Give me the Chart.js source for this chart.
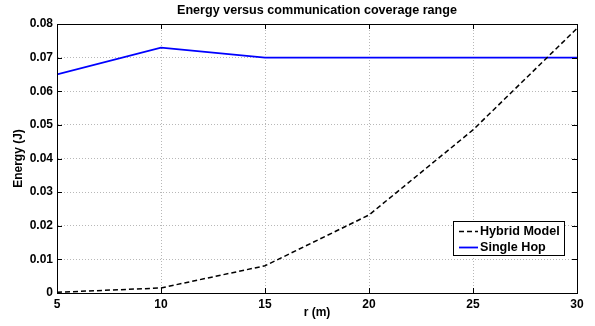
<!DOCTYPE html>
<html>
<head>
<meta charset="utf-8">
<script src="https://cdn.jsdelivr.net/npm/chart.js@4"></script>
<style>
  html, body { margin: 0; padding: 0; background: #fff; }
  #wrap { width: 595px; height: 326px; position: relative; }
</style>
</head>
<body>
<div id="wrap"><canvas id="energyChart"></canvas></div>
<script>
// coverage range r (m) and energy (J) for each model
var ranges = [5, 10, 15, 20, 25, 30];
var hybridEnergy = [0.0002, 0.0015, 0.0081, 0.0232, 0.0485, 0.0787];
var singleHopEnergy = [0.065, 0.073, 0.070, 0.070, 0.070, 0.070];
var xTicks = [5, 10, 15, 20, 25, 30];
var yTicks = [0, 0.01, 0.02, 0.03, 0.04, 0.05, 0.06, 0.07, 0.08];

var seriesNames = ['Hybrid Model', 'Single Hop'];
var FONT = 'Arial, "Liberation Sans", sans-serif';

Chart.defaults.font.family = FONT;
Chart.defaults.color = '#000';

function toPoints(xs, ys) {
  return xs.map(function (x, i) { return { x: x, y: ys[i] }; });
}

// box, inward ticks, title and legend drawn MATLAB style
var matlabFrame = {
  id: 'matlabFrame',
  afterDatasetsDraw: function (chart) {
    var c = chart.ctx, a = chart.chartArea;
    var xs = chart.scales.x, ys = chart.scales.y;
    c.save();
    c.strokeStyle = '#000';
    c.lineWidth = 1;
    c.beginPath();
    xTicks.forEach(function (t) {
      var px = Math.round(xs.getPixelForValue(t)) + 0.5;
      c.moveTo(px, a.bottom); c.lineTo(px, a.bottom - 5);
      c.moveTo(px, a.top); c.lineTo(px, a.top + 5);
    });
    yTicks.forEach(function (t) {
      var py = Math.round(ys.getPixelForValue(t)) + 0.5;
      c.moveTo(a.left, py); c.lineTo(a.left + 5, py);
      c.moveTo(a.right, py); c.lineTo(a.right - 5, py);
    });
    c.stroke();
    c.strokeRect(Math.round(a.left) + 0.5, Math.round(a.top) + 0.5,
                 Math.round(a.right - a.left), Math.round(a.bottom - a.top));

    // title
    c.fillStyle = '#000';
    c.font = 'bold 12.6px ' + FONT;
    c.textAlign = 'center';
    c.textBaseline = 'middle';
    c.fillText('Energy versus communication coverage range', (a.left + a.right) / 2, 11);

    // legend
    var lx = 453, ly = 221, lw = 111, lh = 34;
    c.fillStyle = '#fff';
    c.fillRect(lx, ly, lw, lh);
    c.strokeRect(lx + 0.5, ly + 0.5, lw, lh);
    c.font = 'bold 12.6px ' + FONT;
    var ds = chart.data.datasets;
    ds.forEach(function (d, i) {
      var yy = ly + 10 + i * 16;
      c.strokeStyle = d.borderColor;
      c.lineWidth = d.borderWidth;
      c.setLineDash(d.borderDash || []);
      c.beginPath();
      c.moveTo(lx + 6, yy + 0.5); c.lineTo(lx + 25, yy + 0.5);
      c.stroke();
      c.setLineDash([]);
      c.fillStyle = '#000';
      c.textAlign = 'left';
      c.fillText(seriesNames[i], lx + 27, yy + 1);
    });
    c.restore();
  }
};

new Chart(document.getElementById('energyChart'), {
  type: 'line',
  data: {
    datasets: [{
      label: seriesNames[0],
      data: toPoints(ranges, hybridEnergy),
      borderColor: '#000',
      borderWidth: 1.5,
      borderDash: [5, 3],
      pointRadius: 0,
      fill: false
    }, {
      label: seriesNames[1],
      data: toPoints(ranges, singleHopEnergy),
      borderColor: '#0000ff',
      borderWidth: 1.8,
      pointRadius: 0,
      fill: false
    }]
  },
  options: {
    responsive: true,
    maintainAspectRatio: false,
    animation: false,
    layout: { padding: { top: 24, right: 18, left: 0, bottom: 0 } },
    plugins: { legend: { display: false }, tooltip: { enabled: false } },
    scales: {
      x: {
        type: 'linear',
        min: 5, max: 30,
        afterBuildTicks: function (s) { s.ticks = xTicks.map(function (v) { return { value: v }; }); },
        afterFit: function (s) { s.height = 33; },
        grid: { color: '#b8b8b8', drawTicks: false },
        border: { color: '#000', dash: [1, 2] },
        ticks: { font: { size: 12, weight: 'bold' }, padding: 4, maxRotation: 0 },
        title: { display: true, text: 'r (m)', font: { size: 12, weight: 'bold' }, padding: { top: 0, bottom: 6 } }
      },
      y: {
        min: 0, max: 0.08,
        afterBuildTicks: function (s) { s.ticks = yTicks.map(function (v) { return { value: v }; }); },
        afterFit: function (s) { s.width = 57; },
        grid: { color: '#b8b8b8', drawTicks: false },
        border: { color: '#000', dash: [1, 2] },
        ticks: {
          font: { size: 12, weight: 'bold' }, padding: 4,
          callback: function (v) { return v === 0 ? '0' : v.toFixed(2); }
        },
        title: { display: true, text: 'Energy (J)', font: { size: 12, weight: 'bold' }, padding: { top: 11, bottom: 0 } }
      }
    }
  },
  plugins: [matlabFrame]
});
</script>
</body>
</html>
